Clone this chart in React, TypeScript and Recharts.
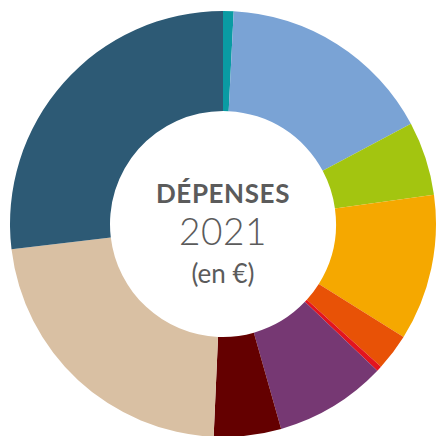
import { Cell, Label, Pie, PieChart } from 'recharts'

const categories = [
  'Poste 1',
  'Poste 2',
  'Poste 3',
  'Poste 4',
  'Poste 5',
  'Poste 6',
  'Poste 7',
  'Poste 8',
  'Poste 9',
  'Poste 10',
]
const shares = [0.8, 16.4, 5.6, 11.1, 2.8, 0.4, 8.5, 5.1, 22.4, 26.9]
const colors = [
  '#0a9ba3',
  '#7aa3d5',
  '#a3c510',
  '#f5a800',
  '#e85206',
  '#e3141f',
  '#763873',
  '#640000',
  '#d9c0a3',
  '#2d5a75',
]

const data = categories.map((name, i) => ({ name, value: shares[i] }))

function CenterText({ viewBox }: { viewBox?: { cx: number; cy: number } }) {
  const cx = viewBox?.cx ?? 223
  const cy = viewBox?.cy ?? 223
  return (
    <g fill="#5b5b5b" fontFamily="Lato, 'Open Sans', sans-serif" textAnchor="middle">
      <text x={cx} y={cy - 20} fontSize={26} fontWeight={700} letterSpacing={0.6}>
        DÉPENSES
      </text>
      <text x={cx} y={cy + 22} fontSize={37} fontWeight={300} letterSpacing={0.6}>
        2021
      </text>
      <text x={cx} y={cy + 60} fontSize={26} fontWeight={400}>
        (en €)
      </text>
    </g>
  )
}

export default function App() {
  return (
    <div style={{ position: 'absolute', left: 0, top: 0, width: 438, height: 436, background: '#fff' }}>
      <PieChart width={438} height={436} margin={{ top: 0, right: 0, bottom: 0, left: 0 }}>
        <Pie
          data={data}
          dataKey="value"
          nameKey="name"
          cx={223}
          cy={224}
          innerRadius={113}
          outerRadius={213}
          startAngle={90}
          endAngle={-270}
          stroke="none"
          isAnimationActive={false}
        >
          {data.map((d, i) => (
            <Cell key={d.name} fill={colors[i]} />
          ))}
          <Label position="center" content={(props: any) => <CenterText viewBox={props.viewBox} />} />
        </Pie>
      </PieChart>
    </div>
  )
}
